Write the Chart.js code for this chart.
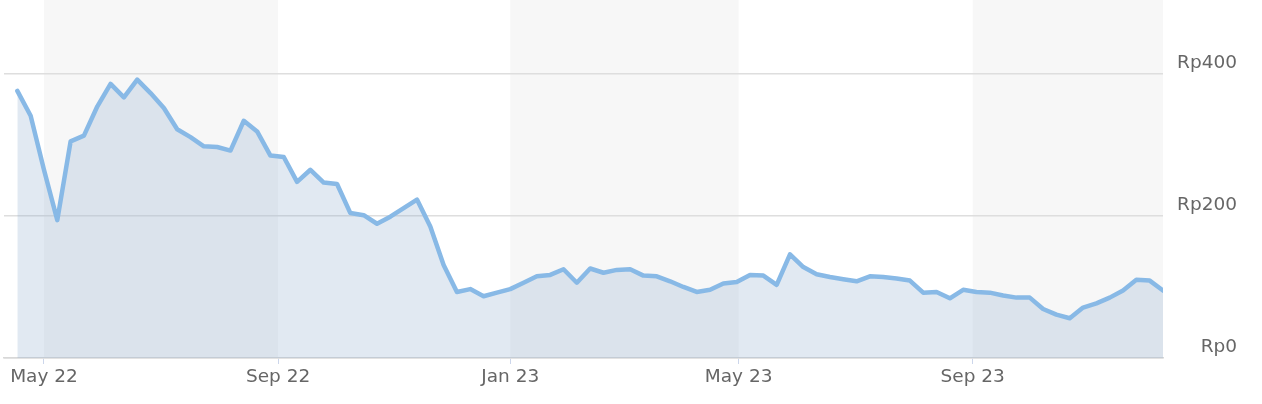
<!DOCTYPE html>
<html>
<head>
<meta charset="utf-8">
<script src="https://cdn.jsdelivr.net/npm/chart.js@4.4.1/dist/chart.umd.min.js"></script>
<style>
  html, body { margin: 0; padding: 0; background: #ffffff; }
  #wrap { width: 1262px; height: 404px; position: relative; }
</style>
</head>
<body>
<div id="wrap"><canvas id="c" width="1262" height="404"></canvas></div>
<script>
// ---- data (weekly closing prices, Rp) ----
const startDate = '2022-04-17';
const prices = [
  376, 341, 265, 194, 305, 313, 354, 386, 367, 392,
  373, 352, 322, 311, 298, 297, 292, 334, 319, 285,
  283, 248, 265, 247, 245, 204, 201, 189, 199, 211,
  223, 185, 131, 93, 97, 87, 92, 97, 106, 115,
  117, 125, 106, 126, 120, 124, 125, 116, 115, 108,
  100, 93, 96, 105, 107, 117, 116, 103, 146, 128,
  118, 114, 111, 108, 115, 114, 112, 109, 92, 93,
  84, 96, 93, 92, 88, 85, 85, 69, 61, 56,
  71, 77, 85, 95, 110, 109, 95
];
const xTickDates = ['2022-05-01', '2022-09-01', '2023-01-01', '2023-05-01', '2023-09-01'];
const xTickLabels = ['May 22', 'Sep 22', 'Jan 23', 'May 23', 'Sep 23'];
const yTickValues = [0, 200, 400];
const yTickLabels = ['Rp0', 'Rp200', 'Rp400'];
const bandRanges = [['2022-05-01', '2022-09-01'], ['2023-01-01', '2023-05-01'], ['2023-09-01', '2024-01-01']];

// ---- helpers ----
const DAY = 86400000;
const t0 = Date.parse(startDate + 'T00:00:00Z');
const dayOf = s => Math.round((Date.parse(s + 'T00:00:00Z') - t0) / DAY);
const points = prices.map((v, i) => ({ x: i * 7, y: v }));
const xTickVals = xTickDates.map(dayOf);
const xMin = -7;
const xMax = (prices.length - 1) * 7;

const bandPlugin = {
  id: 'bands',
  beforeDraw(chart) {
    const { ctx, chartArea, scales } = chart;
    ctx.save();
    ctx.fillStyle = '#f7f7f7';
    bandRanges.forEach(([a, b]) => {
      let x1 = scales.x.getPixelForValue(dayOf(a));
      let x2 = scales.x.getPixelForValue(dayOf(b));
      x1 = Math.max(x1, chartArea.left);
      x2 = Math.min(x2, chartArea.right);
      if (x2 > x1) ctx.fillRect(x1, 0, x2 - x1, chartArea.bottom);
    });
    ctx.restore();
  }
};

const FONT = { family: '"DejaVu Sans", sans-serif', size: 18.5 };

new Chart(document.getElementById('c'), {
  type: 'line',
  data: {
    datasets: [{
      data: points,
      borderColor: 'rgb(136,185,230)',
      borderWidth: 4.5,
      backgroundColor: 'rgba(135,167,203,0.25)',
      fill: 'origin',
      pointRadius: 0,
      tension: 0,
      borderJoinStyle: 'round',
      borderCapStyle: 'round'
    }]
  },
  options: {
    responsive: false,
    animation: false,
    devicePixelRatio: 1,
    layout: { padding: { left: 4, top: 0, right: 25, bottom: 0 } },
    plugins: { legend: { display: false }, tooltip: { enabled: false } },
    scales: {
      x: {
        type: 'linear',
        min: xMin,
        max: xMax,
        afterBuildTicks(scale) { scale.ticks = xTickVals.map(v => ({ value: v })); },
        afterFit(scale) { scale.height = 46; scale.paddingLeft = 0; scale.paddingRight = 0; },
        ticks: {
          autoSkip: false,
          maxRotation: 0,
          padding: 2,
          color: '#666666',
          font: FONT,
          callback(value) { const i = xTickVals.indexOf(value); return i >= 0 ? xTickLabels[i] : ''; }
        },
        grid: { drawOnChartArea: false, drawTicks: true, tickLength: 6, color: '#ccd6eb', lineWidth: 1 },
        border: { display: true, color: '#d8d8d8', width: 1.5 }
      },
      y: {
        position: 'right',
        min: 0,
        max: 504,
        afterBuildTicks(scale) { scale.ticks = yTickValues.map(v => ({ value: v })); },
        afterFit(scale) { scale.width = 74; scale.paddingTop = 0; scale.paddingBottom = 0; },
        ticks: {
          padding: 13,
          crossAlign: 'far',
          labelOffset: -11,
          color: '#666666',
          font: FONT,
          callback(value) { const i = yTickValues.indexOf(value); return i >= 0 ? yTickLabels[i] : ''; }
        },
        grid: { drawTicks: false, color: '#dedede', lineWidth: 1.5 },
        border: { display: false }
      }
    }
  },
  plugins: [bandPlugin]
});
</script>
</body>
</html>
